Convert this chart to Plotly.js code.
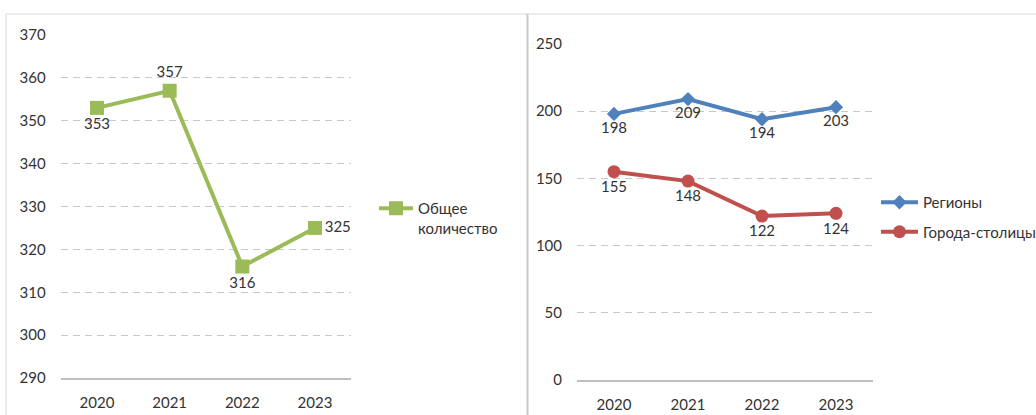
<!DOCTYPE html>
<html>
<head>
<meta charset="utf-8">
<script src="https://cdn.plot.ly/plotly-3.0.1.min.js"></script>
<style>
  html, body { margin: 0; padding: 0; background: #ffffff; overflow: hidden; }
  #chart { width: 1036px; height: 415px; overflow: hidden; }
</style>
</head>
<body>
<div id="chart"></div>
<script>
// Data
const years = ['2020', '2021', '2022', '2023'];
const totalName = 'Общее<br>количество';
const totalValues = [353, 357, 316, 325];
const regionsName = 'Регионы';
const regionsValues = [198, 209, 194, 203];
const capitalsName = 'Города-столицы';
const capitalsValues = [155, 148, 122, 124];

const W = 1036, H = 415;
const px = v => v / W;
const py = v => 1 - v / H;

const FONT = 'Lato, "Open Sans", sans-serif';
const TXT = '#333333';

const traces = [
  {
    x: years, y: totalValues, name: totalName, type: 'scatter',
    mode: 'lines+markers+text',
    xaxis: 'x', yaxis: 'y', legend: 'legend',
    line: {color: '#9BBB59', width: 4},
    marker: {symbol: 'square', size: 14, color: '#9BBB59'},
    text: totalValues.map(String),
    textposition: ['bottom center', 'top center', 'bottom center', 'middle right'],
    textfont: {family: FONT, size: 15, color: TXT},
    cliponaxis: false, hoverinfo: 'skip'
  },
  {
    x: years, y: regionsValues, name: regionsName, type: 'scatter',
    mode: 'lines+markers+text',
    xaxis: 'x2', yaxis: 'y2', legend: 'legend2', legendgroup: 'a',
    line: {color: '#4F81BD', width: 4},
    marker: {symbol: 'diamond', size: 11, color: '#4F81BD'},
    text: regionsValues.map(String),
    textposition: 'bottom center',
    textfont: {family: FONT, size: 15, color: TXT},
    cliponaxis: false, hoverinfo: 'skip'
  },
  {
    x: years, y: capitalsValues, name: capitalsName, type: 'scatter',
    mode: 'lines+markers+text',
    xaxis: 'x2', yaxis: 'y2', legend: 'legend2', legendgroup: 'b',
    line: {color: '#C0504D', width: 4},
    marker: {symbol: 'circle', size: 13, color: '#C0504D'},
    text: capitalsValues.map(String),
    textposition: 'bottom center',
    textfont: {family: FONT, size: 15, color: TXT},
    cliponaxis: false, hoverinfo: 'skip'
  }
];

const gridCommon = {
  showgrid: true, gridcolor: '#c8c8c8', griddash: '7px,5px', gridwidth: 1,
  zeroline: false, showline: false, ticks: '',
  tickfont: {family: FONT, size: 15, color: TXT},
  ticklabelstandoff: 14, fixedrange: true
};
const xCommon = {
  type: 'category', range: [-0.5, 3.5], showgrid: false, zeroline: false,
  showline: true, linecolor: '#bfbfbf', linewidth: 1.5, ticks: '',
  tickfont: {family: FONT, size: 15, color: TXT},
  ticklabelstandoff: 10, fixedrange: true
};

const layout = {
  width: W, height: H,
  margin: {l: 0, r: 0, t: 0, b: 0, autoexpand: false},
  paper_bgcolor: '#ffffff', plot_bgcolor: 'rgba(0,0,0,0)',
  font: {family: FONT, color: TXT},
  showlegend: true,
  xaxis: Object.assign({}, xCommon, {domain: [px(60.7), px(351.3)], anchor: 'y'}),
  yaxis: Object.assign({}, gridCommon, {domain: [1 - 378 / H, 1 - 35 / H], range: [290, 370], dtick: 10, anchor: 'x'}),
  xaxis2: Object.assign({}, xCommon, {domain: [px(577), px(873)], anchor: 'y2'}),
  yaxis2: Object.assign({}, gridCommon, {domain: [1 - 380 / H, 1 - 44 / H], range: [0, 250], dtick: 50, anchor: 'x2'}),
  legend: {
    x: px(374), y: py(192), xanchor: 'left', yanchor: 'top', itemwidth: 34,
    bgcolor: 'rgba(0,0,0,0)', borderwidth: 0, valign: 'top',
    font: {family: FONT, size: 15, color: TXT}, itemclick: false, itemdoubleclick: false
  },
  legend2: {
    x: px(876), y: py(186), xanchor: 'left', yanchor: 'top', itemwidth: 37,
    bgcolor: 'rgba(0,0,0,0)', borderwidth: 0, traceorder: 'grouped', tracegroupgap: 7,
    font: {family: FONT, size: 15, color: TXT}, itemclick: false, itemdoubleclick: false
  },
  shapes: [
    {type: 'line', xref: 'paper', yref: 'paper', x0: px(6), x1: 1, y0: py(14), y1: py(14), line: {color: '#d9d9d9', width: 1}},
    {type: 'line', xref: 'paper', yref: 'paper', x0: px(6), x1: px(6), y0: 0, y1: py(14), line: {color: '#d9d9d9', width: 1}},
    {type: 'line', xref: 'paper', yref: 'paper', x0: px(527.5), x1: px(527.5), y0: 0, y1: py(14), line: {color: '#c8c8c8', width: 2}}
  ]
};

Plotly.newPlot('chart', traces, layout, {displayModeBar: false, staticPlot: true});
</script>
</body>
</html>
